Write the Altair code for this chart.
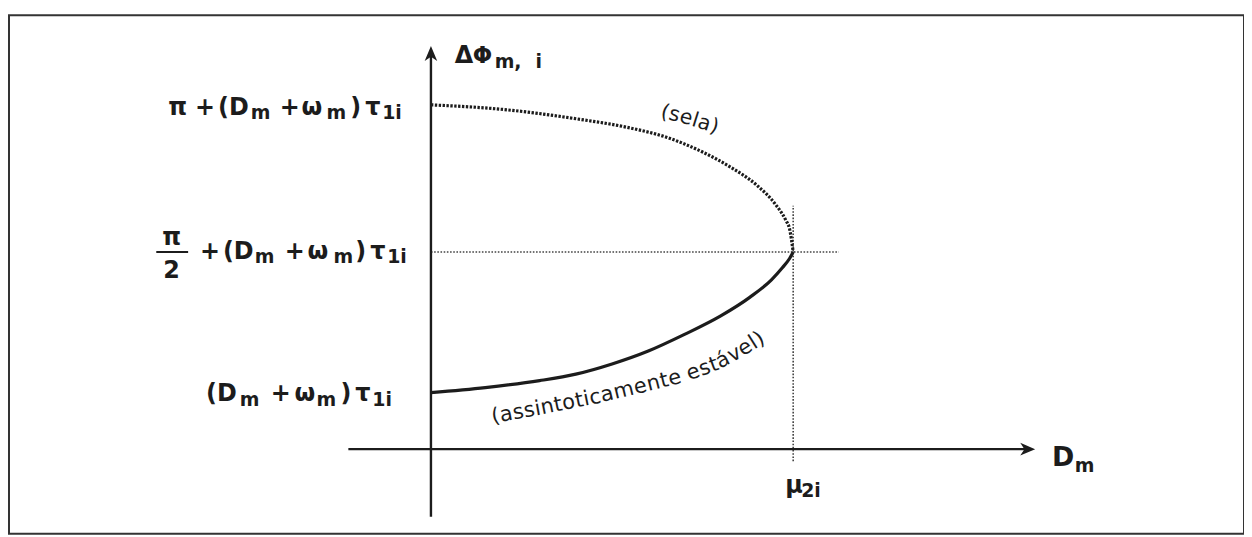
import math
import altair as alt
import pandas as pd

# ---------------- data ----------------
mu_2i = 1.0                                  # bifurcation value of D_m
tick_phi = [0.61, 2.13, 3.72]                # (Dm+ωm)τ1i , π/2+(Dm+ωm)τ1i , π+(Dm+ωm)τ1i

stable_D = [0.0, 0.15, 0.30, 0.40, 0.50, 0.60, 0.70, 0.80, 0.88, 0.94, 0.97, 0.99, 1.0]
stable_phi = [0.61, 0.665, 0.74, 0.81, 0.92, 1.06, 1.24, 1.44, 1.64, 1.83, 1.96, 2.06, 2.13]

saddle_D = [0.0, 0.20, 0.40, 0.55, 0.65, 0.75, 0.83, 0.90, 0.95, 0.98, 0.99, 1.0]
saddle_phi = [3.72, 3.67, 3.57, 3.47, 3.37, 3.21, 3.04, 2.85, 2.65, 2.47, 2.38, 2.13]

x_axis_range = [-0.228, 1.646]
y_axis_range = [-0.731, 4.30]
x_arrow_tip = 1.668
y_arrow_tip = 4.355
mu_guide_range = [-0.13, 2.63]
half_guide_range = [0.0, 1.126]

# ---------------- page geometry ----------------
W, H = 1241, 521
PAD_L, PAD_T = 1, 6
X0, XS = 433.0, 364.0      # page x of D=0, px per unit
Y0, YS = 450.0, 93.0       # page y of phi=0, px per unit
OX, OY = 8 + PAD_L, 8 + PAD_T
x_dom = [(OX - X0) / XS, (OX + W - X0) / XS]
y_dom = [(Y0 - (OY + H)) / YS, (Y0 - OY) / YS]


def pxD(x):
    return (x - X0) / XS


def pyP(y):
    return (Y0 - y) / YS


xs = alt.Scale(domain=x_dom, nice=False, zero=False)
ys = alt.Scale(domain=y_dom, nice=False, zero=False)
INK = "#1c1c1c"
FONT = "DejaVu Sans"

# ---------------- curves ----------------
stable = pd.DataFrame({"D": stable_D, "phi": stable_phi})
saddle = pd.DataFrame({"D": saddle_D, "phi": saddle_phi})

stable_line = alt.Chart(stable).mark_line(
    interpolate="monotone", strokeWidth=3.2, color=INK
).encode(x=alt.X("D:Q", scale=xs, axis=None), y=alt.Y("phi:Q", scale=ys, axis=None))

saddle_line = alt.Chart(saddle).mark_line(
    interpolate="monotone", strokeWidth=3.2, color=INK, strokeDash=[2.4, 1.5]
).encode(x=alt.X("D:Q", scale=xs, axis=None), y=alt.Y("phi:Q", scale=ys, axis=None))

# ---------------- axes ----------------
axes_df = pd.DataFrame({
    "x1": [x_axis_range[0], 0.0],
    "x2": [x_axis_range[1], 0.0],
    "y1": [0.0, y_axis_range[0]],
    "y2": [0.0, y_axis_range[1]],
})
axes = alt.Chart(axes_df).mark_rule(strokeWidth=2.4, color=INK).encode(
    x=alt.X("x1:Q", scale=xs, axis=None), x2="x2:Q",
    y=alt.Y("y1:Q", scale=ys, axis=None), y2="y2:Q")

guides_df = pd.DataFrame({
    "x1": [mu_2i, half_guide_range[0]],
    "x2": [mu_2i, half_guide_range[1]],
    "y1": [mu_guide_range[0], tick_phi[1]],
    "y2": [mu_guide_range[1], tick_phi[1]],
})
guides = alt.Chart(guides_df).mark_rule(strokeWidth=1.6, color="#444", strokeDash=[1.6, 1.6]).encode(
    x=alt.X("x1:Q", scale=xs, axis=None), x2="x2:Q",
    y=alt.Y("y1:Q", scale=ys, axis=None), y2="y2:Q")

x_head = alt.Chart(pd.DataFrame({"D": [x_arrow_tip], "phi": [0.0]})).mark_point(
    shape="M0,0 L-1,-0.42 L-0.72,0 L-1,0.42 Z", filled=True, size=900, color=INK, opacity=1
).encode(x=alt.X("D:Q", scale=xs, axis=None), y=alt.Y("phi:Q", scale=ys, axis=None))

y_head = alt.Chart(pd.DataFrame({"D": [0.0], "phi": [y_arrow_tip]})).mark_point(
    shape="M0,0 L-0.42,1 L0,0.72 L0.42,1 Z", filled=True, size=900, color=INK, opacity=1
).encode(x=alt.X("D:Q", scale=xs, axis=None), y=alt.Y("phi:Q", scale=ys, axis=None))

# fraction bar of π/2
frac_df = pd.DataFrame({"x1": [pxD(157)], "x2": [pxD(189)], "y1": [tick_phi[1]]})
frac = alt.Chart(frac_df).mark_rule(strokeWidth=2.2, color=INK).encode(
    x=alt.X("x1:Q", scale=xs, axis=None), x2="x2:Q", y=alt.Y("y1:Q", scale=ys, axis=None))

# ---------------- text ----------------
math_rows, note_rows = [], []
MAIN, SUB = 24, 19


def seg(text, x, y, size, angle=0.0, rows=math_rows):
    rows.append({"D": pxD(x - 1), "phi": pyP(y), "t": text, "size": size, "angle": angle % 360})


# tick label: π + (Dm + ωm) τ1i
ty = Y0 - tick_phi[2] * YS
for t, x, k in [("π", 170, 0), ("+", 197, 0), ("(D", 220, 0), ("m", 253, 1),
                ("+", 282, 0), ("ω", 304, 0), ("m", 329, 1), (")", 353, 0), ("τ", 368, 0), ("1i", 385, 1)]:
    seg(t, x, ty + (14 if k else 10), SUB if k else MAIN)

# tick label: π/2 + (Dm + ωm) τ1i
ty = Y0 - tick_phi[1] * YS
seg("π", 164, ty - 7, MAIN)
seg("2", 165, ty + 26, MAIN)
for t, x, k in [("+", 202, 0), ("(D", 225, 0), ("m", 257, 1), ("+", 287, 0),
                ("ω", 310, 0), ("m", 336, 1), (")", 358, 0), ("τ", 373, 0), ("1i", 390, 1)]:
    seg(t, x, ty + (11 if k else 7), SUB if k else MAIN)

# tick label: (Dm + ωm) τ1i
ty = Y0 - tick_phi[0] * YS
for t, x, k in [("(D", 208, 0), ("m", 242, 1), ("+", 273, 0), ("ω", 297, 0),
                ("m", 319, 1), (")", 343, 0), ("τ", 358, 0), ("1i", 375, 1)]:
    seg(t, x, ty + (13 if k else 8), SUB if k else MAIN)

# axis titles
seg("Δ", 458, 62, 24)
seg("Φ", 476, 62, 23)
seg("m,", 498, 67, SUB)
seg("i", 539, 67, SUB)
seg("D", 1058, 467, 27)
seg("m", 1081, 473, SUB)
seg("μ", 790, 494, 24)
seg("2i", 806, 498, SUB)

# curved annotations
ADV = {"(": 0.390, ")": 0.390, "a": 0.613, "á": 0.613, "s": 0.521, "i": 0.278, "n": 0.634,
       "t": 0.392, "o": 0.612, "c": 0.550, "m": 0.974, "e": 0.615, " ": 0.318, "v": 0.592,
       "l": 0.278}


def along(text, pts, size):
    segs, total = [], 0.0
    for (x1, y1), (x2, y2) in zip(pts[:-1], pts[1:]):
        L = math.hypot(x2 - x1, y2 - y1)
        segs.append((x1, y1, x2, y2, L, total))
        total += L
    k = total / sum(ADV[c] for c in text)

    def at(s):
        for x1, y1, x2, y2, L, s0 in segs:
            if s <= s0 + L or (x2, y2) == pts[-1]:
                f = min(max((s - s0) / L, 0), 1)
                return x1 + f * (x2 - x1), y1 + f * (y2 - y1), math.degrees(math.atan2(y2 - y1, x2 - x1))
        return pts[-1][0], pts[-1][1], 0

    s = 0.0
    for c in text:
        w = ADV[c] * k
        x, y, _ = at(s)
        _, _, a = at(s + w / 2)
        if c != " ":
            seg(c, x + 1, y, size, a, rows=note_rows)
        s += w


along("(sela)", [(663, 116.5), (690, 123.5), (720, 133)], 20.5)
along("(assintoticamente estável)",
      [(495, 424), (550, 414), (600, 404), (650, 392), (690, 382), (720, 371), (745, 358), (770, 342)], 21)


def text_layer(rows, weight):
    return alt.Chart(pd.DataFrame(rows)).mark_text(
        align="left", baseline="alphabetic", font=FONT, color=INK, fontWeight=weight
    ).encode(
        x=alt.X("D:Q", scale=xs, axis=None),
        y=alt.Y("phi:Q", scale=ys, axis=None),
        text="t:N",
        size=alt.Size("size:Q", scale=None, legend=None),
        angle=alt.Angle("angle:Q", scale=None),
    )


chart = alt.layer(guides, axes, x_head, y_head, saddle_line, stable_line, frac,
                  text_layer(math_rows, "bold"), text_layer(note_rows, "normal")).properties(
    width=W, height=H,
    padding={"left": PAD_L, "top": PAD_T, "right": 0, "bottom": 0},
    autosize=alt.AutoSizeParams(type="none"),
    background="white",
).configure_view(stroke="#333333", strokeWidth=2)

chart.save("out.html", embed_options={"renderer": "svg", "actions": False})
